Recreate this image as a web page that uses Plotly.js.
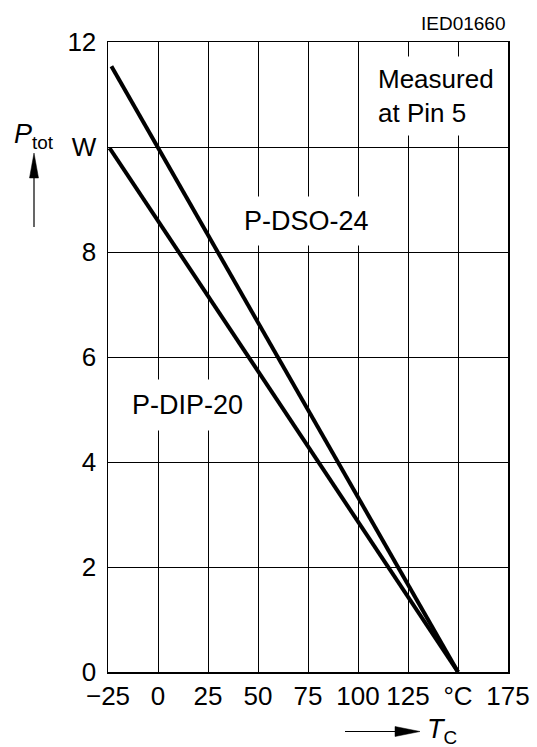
<!DOCTYPE html>
<html>
<head>
<meta charset="utf-8">
<script src="https://cdn.plot.ly/plotly-3.0.1.min.js"></script>
<style>html,body{margin:0;padding:0;background:#fff;}#chart{width:537px;height:747px;}</style>
</head>
<body>
<div id="chart"></div>
<script>
// Data
const tempDSO = [-23.3, 150];
const ptotDSO = [11.54, 0];
const tempDIP = [-24.2, 150];
const ptotDIP = [9.98, 0];

const xTickVals = [-25, 0, 25, 50, 75, 100, 125, 150, 175];
const xTickText = ['\u221225', '0', '25', '50', '75', '100', '125', '\u00B0C', '175'];
const yTickVals = [0, 2, 4, 6, 8, 10, 12];
const yTickText = ['0', '2', '4', '6', '8', 'W', '12'];

const seriesNames = ['P-DSO-24', 'P-DIP-20'];
const noteText = 'Measured<br>at Pin 5';
const figId = 'IED01660';

const FONT = 'Liberation Sans, Arial, sans-serif';

const traces = [
  {x: tempDSO, y: ptotDSO, mode: 'lines', name: seriesNames[0], line: {color: '#000', width: 4}, hoverinfo: 'skip'},
  {x: tempDIP, y: ptotDIP, mode: 'lines', name: seriesNames[1], line: {color: '#000', width: 4}, hoverinfo: 'skip'}
];

const W = 400, H = 630, L = 108, T = 42;
function px(p) { return (p - L) / W; }
function py(p) { return (T + H - p) / H; }

const layout = {
  width: 537, height: 747,
  margin: {l: L, r: 537 - L - W, t: T, b: 747 - T - H, pad: 0},
  paper_bgcolor: '#fff', plot_bgcolor: '#fff',
  showlegend: false,
  font: {family: FONT, color: '#000', size: 26},
  xaxis: {
    range: [-25, 175], tickmode: 'array', tickvals: xTickVals, ticktext: xTickText,
    showgrid: true, gridcolor: '#000', gridwidth: 1, zeroline: false,
    showline: true, linecolor: '#000', linewidth: 1.5, mirror: true,
    ticks: '', ticklabelstandoff: 0, tickfont: {family: FONT, size: 26, color: '#000'}
  },
  yaxis: {
    range: [0, 12], tickmode: 'array', tickvals: yTickVals, ticktext: yTickText,
    showgrid: true, gridcolor: '#000', gridwidth: 1, zeroline: false,
    showline: true, linecolor: '#000', linewidth: 1.5, mirror: true,
    ticks: '', ticklabelstandoff: 5, tickfont: {family: FONT, size: 26, color: '#000'}
  },
  annotations: [
    {text: seriesNames[0], x: 74, y: 8.6, xref: 'x', yref: 'y', showarrow: false,
     bgcolor: '#fff', borderpad: 9, font: {family: FONT, size: 27}},
    {text: seriesNames[1], x: 14.5, y: 5.08, xref: 'x', yref: 'y', showarrow: false,
     bgcolor: '#fff', borderpad: 10, font: {family: FONT, size: 27}},
    {text: noteText, x: 139, y: 10.97, xref: 'x', yref: 'y', showarrow: false, align: 'left',
     bgcolor: '#fff', borderpad: 7, font: {family: FONT, size: 26}},
    {text: figId, x: 1, y: py(23), xref: 'paper', yref: 'paper', xanchor: 'right', yanchor: 'middle',
     showarrow: false, font: {family: FONT, size: 19}},
    {text: '<i>P</i><sub>tot</sub>', x: px(12), y: py(136), xref: 'paper', yref: 'paper',
     xanchor: 'left', yanchor: 'middle', showarrow: false, font: {family: FONT, size: 27}},
    {text: '<i>T</i><sub>C</sub>', x: px(425), y: py(731), xref: 'paper', yref: 'paper',
     xanchor: 'left', yanchor: 'middle', showarrow: false, font: {family: FONT, size: 27}}
  ],
  shapes: [
    // y-axis arrow
    {type: 'line', xref: 'paper', yref: 'paper', x0: px(34), x1: px(34), y0: py(227), y1: py(176),
     line: {color: '#000', width: 1.2}},
    {type: 'path', xref: 'paper', yref: 'paper',
     path: 'M' + px(34) + ',' + py(153) + ' L' + px(29.5) + ',' + py(178) + ' L' + px(38.5) + ',' + py(178) + ' Z',
     fillcolor: '#000', line: {color: '#000', width: 0.5}},
    // x-axis arrow
    {type: 'line', xref: 'paper', yref: 'paper', x0: px(345), x1: px(397), y0: py(731.5), y1: py(731.5),
     line: {color: '#000', width: 1.2}},
    {type: 'path', xref: 'paper', yref: 'paper',
     path: 'M' + px(420) + ',' + py(731.5) + ' L' + px(395) + ',' + py(726.5) + ' L' + px(395) + ',' + py(736.5) + ' Z',
     fillcolor: '#000', line: {color: '#000', width: 0.5}}
  ]
};

Plotly.newPlot('chart', traces, layout, {staticPlot: true, displayModeBar: false});
</script>
</body>
</html>
